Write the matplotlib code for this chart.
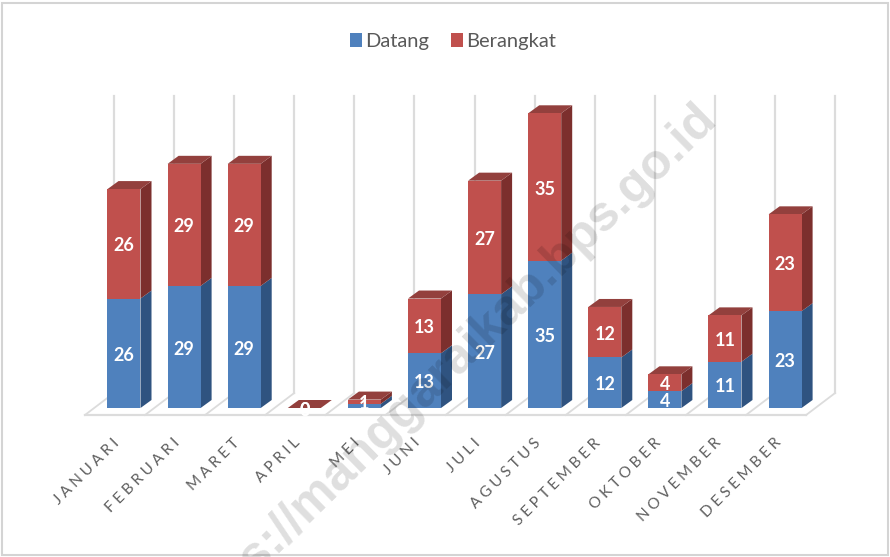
import matplotlib
matplotlib.use('Agg')
import matplotlib.pyplot as plt
from matplotlib.patches import Rectangle

plt.rcParams['font.family'] = ['Lato', 'DejaVu Sans']

months = ['JANUARI', 'FEBRUARI', 'MARET', 'APRIL', 'MEI', 'JUNI', 'JULI',
          'AGUSTUS', 'SEPTEMBER', 'OKTOBER', 'NOVEMBER', 'DESEMBER']
datang = [26, 29, 29, 0, 1, 13, 27, 35, 12, 4, 11, 23]
berangkat = [26, 29, 29, 0, 1, 13, 27, 35, 12, 4, 11, 23]

blue = '#4f81bd'
blue_side = '#2f5380'
red = '#c0504d'
red_side = '#7c2f2d'
red_top = '#93403d'
grid_col = '#dcdcdc'

fig = plt.figure(figsize=(8.9, 5.57), dpi=100)
ax = fig.add_axes([0, 0, 1, 1])
# one x unit is one month (60.1 px), one y unit is one person (4.21 px)
ax.set_xlim(-124 / 60.1, (890 - 124) / 60.1)
ax.set_ylim(-(557 - 408) / 4.21, 408 / 4.21)
ax.axis('off')

# depth of the fake 3d bars and floor, in data units
dx = 11 / 60.1
dy = 8 / 4.21
floor_dx = 29 / 60.1
floor_dy = 22 / 4.21
floor_y = -7 / 4.21
grid_top = 74

# back wall grid and floor
n = len(months)
for i in range(n + 1):
    x0 = i - 0.65
    ax.plot([x0 + floor_dx, x0 + floor_dx], [floor_y + floor_dy, grid_top], color=grid_col, lw=1.6, zorder=1)
    ax.plot([x0, x0 + floor_dx], [floor_y, floor_y + floor_dy], color=grid_col, lw=1.3, zorder=1)
ax.plot([-0.65, n - 0.65], [floor_y, floor_y], color=grid_col, lw=1.6, zorder=1)

x = list(range(n))
width = 33 / 60.1
bars1 = ax.bar(x, datang, width, color=blue, label='Datang', zorder=3)
bars2 = ax.bar(x, berangkat, width, bottom=datang, color=red, label='Berangkat', zorder=3)

# side and top faces
for i in x:
    left = i - width / 2
    right = i + width / 2
    mid = datang[i]
    top = datang[i] + berangkat[i]
    ax.fill([right, right + dx, right + dx, right], [0, dy, mid + dy, mid], color=blue_side, lw=0, zorder=2)
    ax.fill([right, right + dx, right + dx, right], [mid, mid + dy, top + dy, top], color=red_side, lw=0, zorder=2)
    ax.fill([left, right, right + dx, left + dx], [top, top, top + dy, top + dy], color=red_top, lw=0, zorder=2)

for b in (bars1, bars2):
    for t in ax.bar_label(b, label_type='center', color='white', fontsize=13, fontweight='bold', zorder=5):
        t.xyann = (0, -1.5)

# month labels are letter spaced in the original
for i, m in enumerate(months):
    ax.text(i - 0.19, -6.6, '\u2009\u2009'.join(m), rotation=45, rotation_mode='anchor', ha='right', va='top',
            color='#5f5f5f', fontsize=11, zorder=4)

ax.legend(loc='upper center', bbox_to_anchor=(0.509, 0.974), ncol=2, frameon=False, fontsize=14.5,
          handlelength=0.6, handleheight=0.75, handletextpad=0.15, columnspacing=1.1, labelcolor='#595959')

# watermark, runs off the bottom edge like in the original
ax.text(0.797, 0.801, 'https://manggaraikab.bps.go.id', transform=ax.transAxes, rotation=44.4,
        rotation_mode='anchor', ha='right', va='center', fontsize=36, fontweight='bold',
        family=['Liberation Sans', 'DejaVu Sans'], color='black', alpha=0.13, zorder=6)

# screenshot frame
ax.add_patch(Rectangle((0.002, 0.004), 0.996, 0.99, transform=ax.transAxes, fill=False, ec='#d4d4d4', lw=1.5, zorder=0))

fig.savefig('out.png', dpi=100)
